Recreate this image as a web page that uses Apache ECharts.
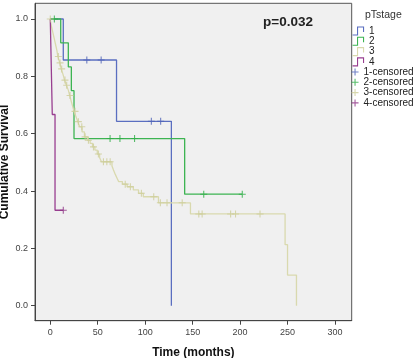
<!DOCTYPE html>
<html>
<head>
<meta charset="utf-8">
<script src="https://cdn.jsdelivr.net/npm/echarts@6/dist/echarts.min.js"></script>
<style>
html,body{margin:0;padding:0;background:#fff;}
#chart{width:420px;height:358px;}
</style>
</head>
<body>
<div id="chart"></div>
<script>
// ---- data ----
var groupNames = ['1', '2', '3', '4'];
var censorNames = ['1-censored', '2-censored', '3-censored', '4-censored'];

// event times (months) and survival after each step
var g1Times = [0, 13.7, 69.8, 127.6];
var g1Surv  = [1, 0.857, 0.643, 0];
var g1Cens  = [38.5, 53.6, 106.5, 116.3];

var g2Times = [0, 11, 19, 22.2, 25, 141.6];
var g2Surv  = [1, 0.917, 0.833, 0.75, 0.583, 0.389];
var g2Cens  = [4.3, 63, 73.4, 88.8, 161.7, 202.3];

var g3Times = [0, 1, 2.5, 4, 5.5, 7, 8, 10, 11.5, 13.5, 15, 17, 19, 20.5, 22, 23.5, 25, 27, 29, 31,
               33.5, 36, 39, 42, 44.5, 47, 49.5, 52, 54, 65, 66.6, 68.5, 70.5, 72, 76, 81, 87.5, 93, 98,
               114, 147.7, 247.4, 250, 259.4];
var g3Surv  = [1, 0.978, 0.956, 0.934, 0.912, 0.89, 0.869, 0.847, 0.826, 0.806, 0.787, 0.769, 0.752, 0.733,
               0.714, 0.696, 0.678, 0.66, 0.642, 0.624, 0.606, 0.589, 0.577, 0.566, 0.554, 0.543, 0.529,
               0.516, 0.502, 0.487, 0.473, 0.458, 0.444, 0.433, 0.424, 0.415, 0.404, 0.392, 0.38,
               0.359, 0.32, 0.213, 0.107, 0];
var g3Cens  = [0, 8.5, 10.3, 12, 15.5, 17.3, 20.8, 26.1, 29.6, 33.2, 36.7, 40.2, 45.5, 50.7, 56, 59.6, 63.1,
               79, 84.4, 96, 109, 116, 123, 139, 156.5, 160, 190, 195.2, 221];

var g4Times = [0, 2.1, 5];
var g4Surv  = [1, 0.667, 0.333];
var g4Cens  = [13.7];

var xTicks = [0, 50, 100, 150, 200, 250, 300];
var yTicks = [0, 0.2, 0.4, 0.6, 0.8, 1.0];

var pText = 'p=0.032';
var legendTitle = 'pTstage';
var xTitle = 'Time (months)';
var yTitle = 'Cumulative Survival';

// ---- styling ----
var colors = ['#5a6ec0', '#3db452', '#d9d9ae', '#983e90'];
var censColors = ['#4f63b8', '#2fae47', '#cdcd98', '#8e3486'];
var FONT = 'Liberation Sans, Arial, sans-serif';

var groups = [
  {t: g1Times, s: g1Surv, c: g1Cens},
  {t: g2Times, s: g2Surv, c: g2Cens},
  {t: g3Times, s: g3Surv, c: g3Cens},
  {t: g4Times, s: g4Surv, c: g4Cens}
];

function survAt(g, time) {
  var v = g.s[0];
  for (var i = 0; i < g.t.length; i++) { if (g.t[i] <= time) v = g.s[i]; }
  return v;
}

var series = [];
groups.forEach(function (g, k) {
  var pts = g.t.map(function (t, i) { return [t, g.s[i]]; });
  var lastT = g.t[g.t.length - 1];
  var maxC = Math.max.apply(null, g.c);
  if (maxC > lastT) pts.push([maxC, g.s[g.s.length - 1]]);
  series.push({
    name: groupNames[k], type: 'line', step: 'end', data: pts,
    symbol: 'none', color: colors[k],
    lineStyle: {width: 1.3, color: colors[k]}, z: 2 + k
  });
});
var plusPath = 'path://M5,0L5,10M0,5L10,5';
groups.forEach(function (g, k) {
  series.push({
    name: censorNames[k], type: 'scatter',
    data: g.c.map(function (t) { return [t, survAt(g, t)]; }),
    symbol: plusPath, symbolSize: [7, 7], color: censColors[k],
    itemStyle: {color: 'transparent', borderColor: censColors[k], borderWidth: 1.1}, z: 10
  });
});

var stepIcon = 'path://M0,9L5,9L5,1L11,1L11,6';
var legendStep = groupNames.map(function (n, k) {
  return {name: n, icon: stepIcon, itemStyle: {color: 'transparent', borderColor: colors[k], borderWidth: 1.1}};
});
var legendCens = censorNames.map(function (n, k) {
  return {name: n, icon: plusPath, itemStyle: {color: 'transparent', borderColor: censColors[k], borderWidth: 1.1}};
});

var chart = echarts.init(document.getElementById('chart'), null, {renderer: 'canvas'});
chart.setOption({
  animation: false,
  backgroundColor: '#ffffff',
  textStyle: {fontFamily: FONT},
  title: [
    {text: pText, left: 263, top: 15, padding: 0,
     textStyle: {fontSize: 13.5, fontWeight: 'bold', color: '#222', fontFamily: FONT}},
    {text: legendTitle, left: 365, top: 9.5, padding: 0,
     textStyle: {fontSize: 10.5, fontWeight: 'normal', color: '#333', fontFamily: FONT}}
  ],
  legend: [
    {data: legendStep, orient: 'vertical', left: 352, top: 26, padding: 0, itemWidth: 12, itemHeight: 8, itemGap: 0.3,
     selectedMode: false, textStyle: {fontSize: 10, color: '#222', lineHeight: 10, fontFamily: FONT}},
    {data: legendCens, orient: 'vertical', left: 351, top: 67, padding: 0, itemWidth: 7, itemHeight: 7, itemGap: 0.3,
     selectedMode: false, textStyle: {fontSize: 10, color: '#222', lineHeight: 10, fontFamily: FONT}}
  ],
  grid: {left: 35, right: 68.3, top: 3.3, bottom: 37.3, show: true, backgroundColor: '#f0f0f0',
         borderColor: '#555', borderWidth: 1, containLabel: false, outerBoundsMode: 'none'},
  xAxis: {
    type: 'value', min: -16.1, max: 317.6,
    name: xTitle, nameLocation: 'middle', nameGap: 26, nameMoveOverlap: false,
    nameTextStyle: {fontSize: 12, fontWeight: 'bold', color: '#111', fontFamily: FONT},
    axisLine: {show: true, onZero: false, lineStyle: {color: '#444', width: 1}},
    axisTick: {show: true, length: 4, customValues: xTicks, lineStyle: {color: '#444'}},
    axisLabel: {customValues: xTicks, fontSize: 9, color: '#444', margin: 7, fontFamily: FONT},
    splitLine: {show: false}
  },
  yAxis: {
    type: 'value', min: -0.0523, max: 1.0548,
    name: yTitle, nameLocation: 'middle', nameGap: 24, nameRotate: 90, nameMoveOverlap: false,
    nameTextStyle: {fontSize: 12, fontWeight: 'bold', color: '#111', fontFamily: FONT},
    axisLine: {show: true, onZero: false, lineStyle: {color: '#444', width: 1}},
    axisTick: {show: true, length: 4, customValues: yTicks, lineStyle: {color: '#444'}},
    axisLabel: {customValues: yTicks, fontSize: 9, color: '#444', margin: 7, fontFamily: FONT,
                formatter: function (v) { return v.toFixed(1); }},
    splitLine: {show: false}
  },
  series: series
});
</script>
</body>
</html>
